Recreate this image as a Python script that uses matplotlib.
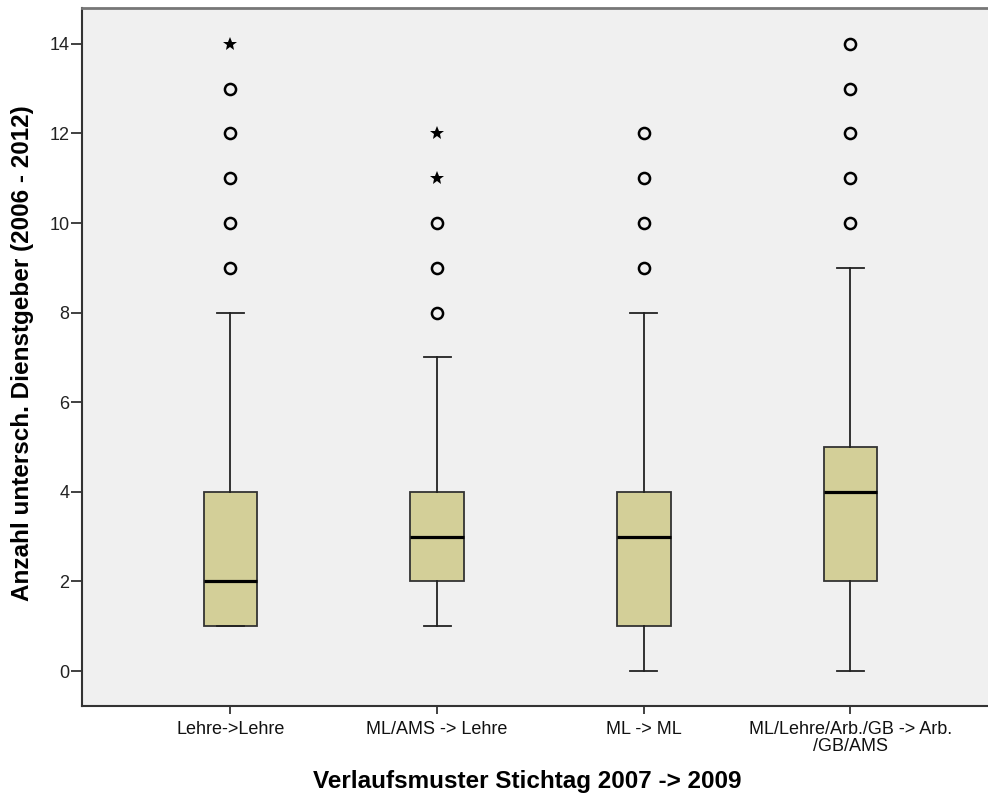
import matplotlib.pyplot as plt

plt.rcParams['font.family'] = ['Liberation Sans', 'DejaVu Sans']

categories = ["Lehre->Lehre", "ML/AMS -> Lehre", "ML -> ML", "ML/Lehre/Arb./GB -> Arb.\n/GB/AMS"]
q1 = [1, 2, 1, 2]
med = [2, 3, 3, 4]
q3 = [4, 4, 4, 5]
whislo = [1, 1, 0, 0]
whishi = [8, 7, 8, 9]
circles = [[9, 10, 11, 12, 13], [8, 9, 10], [9, 10, 11, 12], [10, 11, 12, 13, 14]]
stars = [[14], [11, 12], [], []]

fig = plt.figure(figsize=(9.88, 7.98), dpi=100)
ax = fig.add_axes([0.083, 0.1153, 0.92, 0.8747])
ax.set_facecolor('#f0f0f0')

stats = []
for i in range(len(categories)):
    stats.append(dict(q1=q1[i], med=med[i], q3=q3[i], whislo=whislo[i], whishi=whishi[i], fliers=[]))

ax.bxp(stats, positions=range(len(categories)), widths=0.26, patch_artist=True,
       showfliers=False, capwidths=0.13,
       boxprops=dict(facecolor='#d3cf98', edgecolor='#333333', linewidth=1.3),
       medianprops=dict(color='black', linewidth=2.3),
       whiskerprops=dict(color='#222222', linewidth=1.3),
       capprops=dict(color='#222222', linewidth=1.3))

for i in range(len(categories)):
    ax.plot([i] * len(circles[i]), circles[i], 'o', mfc='none', mec='black', ms=8, mew=1.8)
    ax.plot([i] * len(stars[i]), stars[i], '*', color='black', ms=10, mew=0)

ax.set_xlim(-0.718, 3.68)
ax.set_ylim(-0.78, 14.8)
ax.set_yticks(range(0, 15, 2))
ax.set_xticks(range(len(categories)))
ax.set_xticklabels(categories, fontsize=13, linespacing=0.95)
ax.tick_params(axis='y', labelsize=13, length=8, width=1.3, color='#333333',
               labelcolor='#222222', pad=1)
ax.tick_params(axis='x', length=6, width=1.3, color='#333333', labelcolor='#111111', pad=5)

for s in ['left', 'bottom']:
    ax.spines[s].set_color('#333333')
    ax.spines[s].set_linewidth(1.5)
ax.spines['top'].set_color('#777777')
ax.spines['top'].set_linewidth(2)
ax.spines['right'].set_visible(False)

ax.set_ylabel('Anzahl untersch. Dienstgeber (2006 - 2012)', fontsize=17.5, fontweight='bold')
ax.set_xlabel('Verlaufsmuster Stichtag 2007 -> 2009', fontsize=17.5, fontweight='bold')
ax.yaxis.set_label_coords(-0.053, 0.505)
ax.xaxis.set_label_coords(0.4895, -0.092)

fig.savefig('out.png', dpi=100)
